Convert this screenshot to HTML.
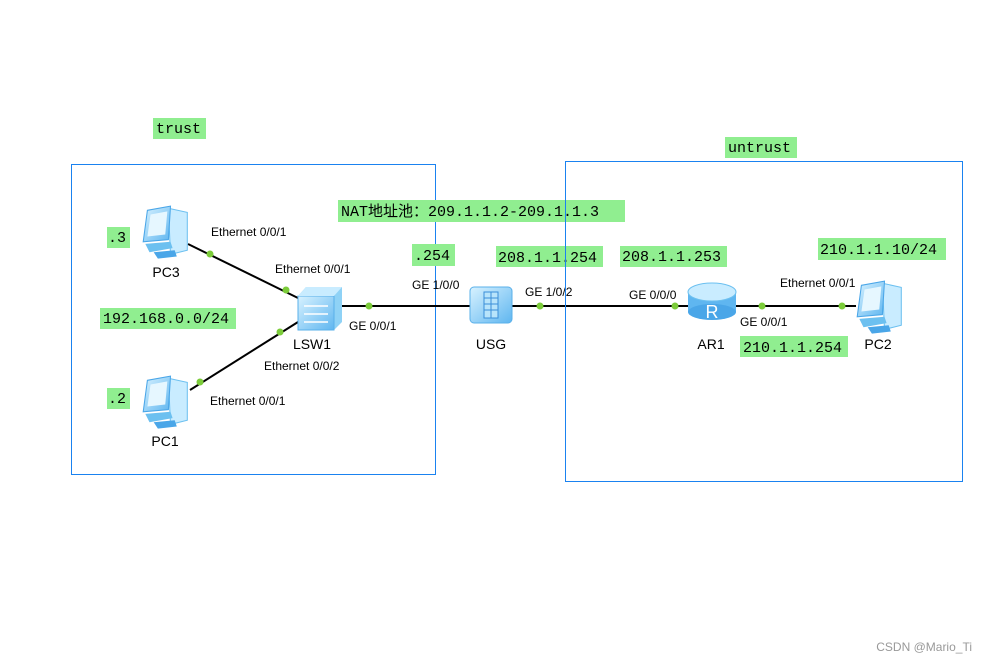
<!DOCTYPE html>
<html><head><meta charset="utf-8"><style>
body{margin:0;background:#fff}
svg{display:block}
.g{fill:#90ee90}
.m{font-family:"Liberation Mono","Noto Sans CJK SC",monospace;font-size:15px;fill:#000}
.s{font-family:"Liberation Sans",sans-serif;font-size:12px;fill:#000}
.n{font-family:"Liberation Sans",sans-serif;font-size:14px;fill:#000}
.d{fill:#7ccc3a}
</style></head><body>
<svg width="988" height="662" viewBox="0 0 988 662" xmlns="http://www.w3.org/2000/svg">
<defs>
<linearGradient id="lb" x1="0" y1="0" x2="1" y2="1"><stop offset="0" stop-color="#d8f2ff"/><stop offset="1" stop-color="#5fb6f0"/></linearGradient>
<g id="pc">
 <path d="M28 4 L46 8 L46 44 L30 48 Z" fill="#c9ecff" stroke="#6cc0f0"/>
 <path d="M8 6 L30 2 L28 34 L4 36 Z" fill="url(#lb)" stroke="#4aa6e8"/>
 <path d="M11 10 L27 7 L25 29 L8 31 Z" fill="#e6f7ff"/>
 <path d="M6 38 L30 36 L32 42 L10 46 Z" fill="#6cc0f0"/>
 <path d="M14 46 L34 44 L36 50 L18 52 Z" fill="#4aa6e8"/>
</g>
</defs>
<rect x="71.5" y="164.5" width="364" height="310" fill="none" stroke="#1a82f0" stroke-width="1"/>
<rect x="565.5" y="161.5" width="397" height="320" fill="none" stroke="#1a82f0" stroke-width="1"/>

<g stroke="#000" stroke-width="2">
<line x1="188" y1="244" x2="298" y2="298"/>
<line x1="190" y1="390" x2="298" y2="322"/>
<line x1="342" y1="306" x2="470" y2="306"/>
<line x1="512" y1="306" x2="688" y2="306"/>
<line x1="736" y1="306" x2="856" y2="306"/>
</g>
<g class="d">
<circle cx="210" cy="254" r="3.5"/><circle cx="286" cy="290" r="3.5"/>
<circle cx="200" cy="382" r="3.5"/><circle cx="280" cy="332" r="3.5"/>
<circle cx="369" cy="306" r="3.5"/><circle cx="540" cy="306" r="3.5"/>
<circle cx="675" cy="306" r="3.5"/><circle cx="762" cy="306" r="3.5"/>
<circle cx="842" cy="306" r="3.5"/>
</g>

<use href="#pc" transform="translate(139,204) scale(1.05)"/>
<use href="#pc" transform="translate(139,374) scale(1.05)"/>
<use href="#pc" transform="translate(853,279) scale(1.05)"/>
<path d="M298 296 L306 287 L342 287 L342 322 L334 330 L298 330 Z" fill="#8fd2f6"/>
<rect x="298" y="296" width="36" height="34" fill="url(#lb)" stroke="#5ab0ea"/>
<path d="M306 287 L342 287 L334 296 L298 296Z" fill="#c9ecff"/>
<g stroke="#fff" stroke-width="1.5"><line x1="304" y1="306" x2="328" y2="306"/><line x1="304" y1="314" x2="328" y2="314"/><line x1="304" y1="322" x2="328" y2="322"/></g>
<rect x="470" y="287" width="42" height="36" rx="4" fill="url(#lb)" stroke="#5ab0ea"/>
<rect x="484" y="292" width="14" height="26" fill="#b8e4fb" stroke="#3a8ed8"/>
<g stroke="#3a8ed8"><line x1="484" y1="298" x2="498" y2="298"/><line x1="484" y1="304" x2="498" y2="304"/><line x1="484" y1="310" x2="498" y2="310"/><line x1="491" y1="292" x2="491" y2="318"/></g>
<rect x="688" y="292" width="48" height="20" fill="#5fb6f0"/>
<ellipse cx="712" cy="312" rx="24" ry="8" fill="#4aa6e8"/>
<ellipse cx="712" cy="292" rx="24" ry="9" fill="#c9ecff" stroke="#6cc0f0"/>
<text x="712" y="318" font-family="Liberation Sans,sans-serif" font-size="18" fill="#fff" text-anchor="middle">R</text>

<text class="n" x="166" y="277" text-anchor="middle">PC3</text>
<text class="n" x="165" y="446" text-anchor="middle">PC1</text>
<text class="n" x="312" y="349" text-anchor="middle">LSW1</text>
<text class="n" x="491" y="349" text-anchor="middle">USG</text>
<text class="n" x="711" y="349" text-anchor="middle">AR1</text>
<text class="n" x="878" y="349" text-anchor="middle">PC2</text>

<text class="s" x="211" y="236">Ethernet 0/0/1</text>
<text class="s" x="275" y="273">Ethernet 0/0/1</text>
<text class="s" x="264" y="370">Ethernet 0/0/2</text>
<text class="s" x="210" y="405">Ethernet 0/0/1</text>
<text class="s" x="349" y="330">GE 0/0/1</text>
<text class="s" x="412" y="289">GE 1/0/0</text>
<text class="s" x="525" y="296">GE 1/0/2</text>
<text class="s" x="629" y="299">GE 0/0/0</text>
<text class="s" x="740" y="326">GE 0/0/1</text>
<text class="s" x="780" y="287">Ethernet 0/0/1</text>

<rect class="g" x="153" y="118" width="53" height="21"/><text class="m" x="156" y="133">trust</text>
<rect class="g" x="725" y="137" width="72" height="21"/><text class="m" x="728" y="152">untrust</text>
<rect class="g" x="338" y="200" width="287" height="22"/><text class="m" x="341" y="216">NAT地址池：209.1.1.2-209.1.1.3</text>
<rect class="g" x="107" y="227" width="23" height="21"/><text class="m" x="108" y="242">.3</text>
<rect class="g" x="107" y="388" width="23" height="21"/><text class="m" x="108" y="403">.2</text>
<rect class="g" x="100" y="308" width="136" height="21"/><text class="m" x="103" y="323">192.168.0.0/24</text>
<rect class="g" x="412" y="244" width="43" height="22"/><text class="m" x="414" y="260">.254</text>
<rect class="g" x="496" y="246" width="107" height="21"/><text class="m" x="498" y="262">208.1.1.254</text>
<rect class="g" x="620" y="246" width="107" height="21"/><text class="m" x="622" y="261">208.1.1.253</text>
<rect class="g" x="818" y="238" width="128" height="22"/><text class="m" x="820" y="254">210.1.1.10/24</text>
<rect class="g" x="740" y="336" width="108" height="21"/><text class="m" x="743" y="352">210.1.1.254</text>
<line x1="565.5" y1="161" x2="565.5" y2="481" stroke="#1a82f0"/>

<text x="972" y="651" font-family="Liberation Sans,sans-serif" font-size="12" fill="#999" text-anchor="end">CSDN @Mario_Ti</text>
</svg>
</body></html>
